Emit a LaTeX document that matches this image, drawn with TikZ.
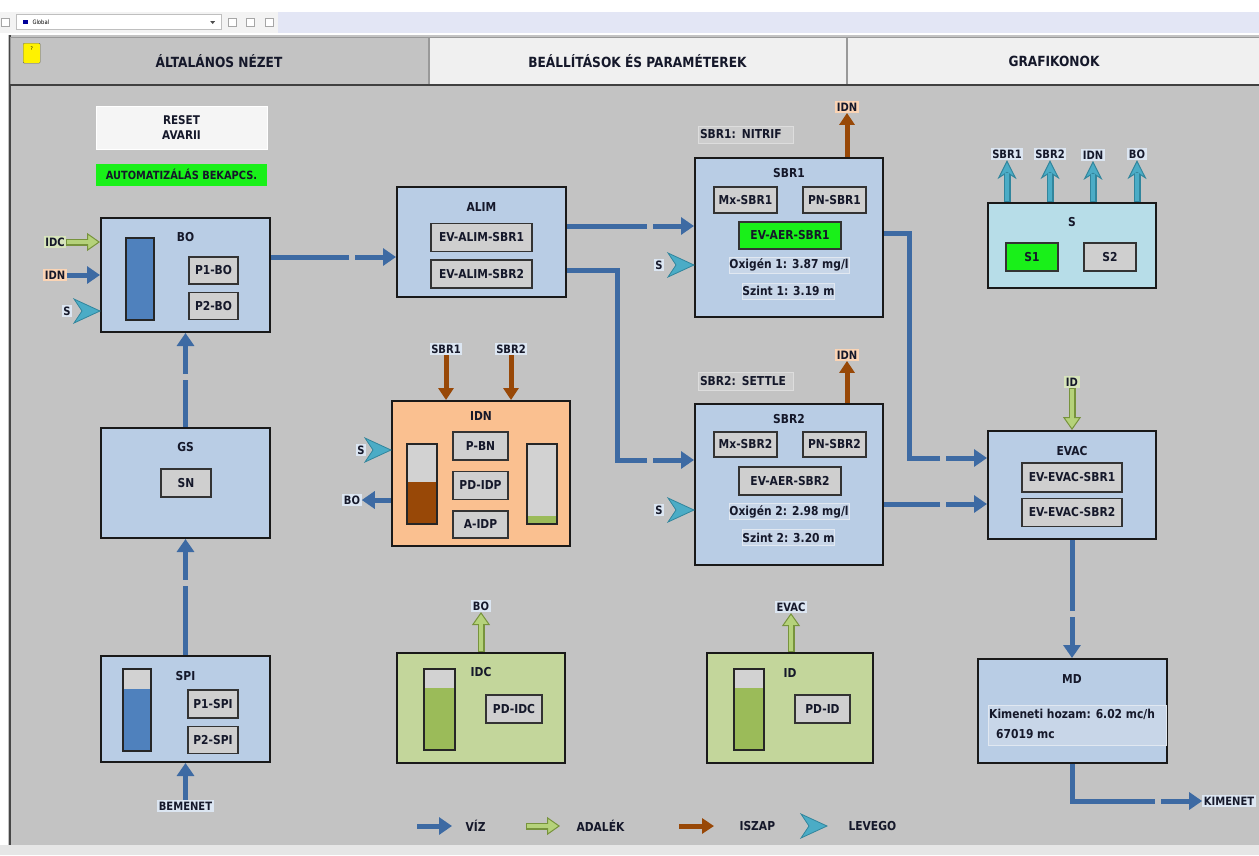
\documentclass[tikz,border=0pt]{standalone}
\usepackage{fontspec}
\setmainfont{DejaVu Sans}[FakeStretch=0.87]
\usetikzlibrary{positioning,arrows.meta,decorations.markings}

\definecolor{panel}{HTML}{C3C3C3}
\definecolor{barg}{HTML}{F3F3F3}
\definecolor{lav}{HTML}{E3E6F5}
\definecolor{stat}{HTML}{E6E6E6}
\definecolor{tabw}{HTML}{F0F0F0}
\definecolor{boxblue}{HTML}{B9CDE5}
\definecolor{btngray}{HTML}{CFCFCF}
\definecolor{tankgray}{HTML}{D2D2D2}
\definecolor{wblue}{HTML}{3D6AA3}
\definecolor{tankblue}{HTML}{4F81BD}
\definecolor{okgreen}{HTML}{19F019}
\definecolor{idnorange}{HTML}{FAC090}
\definecolor{sludge}{HTML}{984807}
\definecolor{idcgreen}{HTML}{C3D69B}
\definecolor{chemgreen}{HTML}{9BBB59}
\definecolor{chemdark}{HTML}{77933C}
\definecolor{chemlight}{HTML}{B5D27A}
\definecolor{aircyan}{HTML}{4BACC6}
\definecolor{airdark}{HTML}{31859C}
\definecolor{scyan}{HTML}{B7DDE8}
\definecolor{tagblue}{HTML}{DCE6F2}
\definecolor{tagorange}{HTML}{FBD4B4}
\definecolor{taggreen}{HTML}{D7E4BC}
\definecolor{fieldblue}{HTML}{C8D6E8}
\definecolor{fieldedge}{HTML}{E1E8F1}
\definecolor{labgray}{HTML}{CDCDCD}
\definecolor{labedge}{HTML}{DDDDDD}
\definecolor{txt}{HTML}{15182A}

\tikzset{
  hmi/.style={font=\fontsize{12.3}{14}\selectfont\bfseries, text=txt},
  tab/.style={draw=gray!80, line width=1pt, fill=tabw, minimum height=48pt, inner sep=0pt, font=\fontsize{14}{16}\selectfont\bfseries, text=txt},
  unit/.style={draw=black!90, line width=2pt, fill=boxblue, inner sep=0pt},
  title/.style={hmi, inner sep=0pt, text height=9pt, text depth=0pt},
  btn/.style={hmi, draw=black!80, line width=1.4pt, fill=btngray, inner sep=0pt, minimum height=27pt},
  field/.style={hmi, draw=fieldedge, line width=1pt, fill=fieldblue, inner sep=0pt, minimum height=16pt},
  state/.style={hmi, draw=labedge, line width=1pt, fill=labgray, inner xsep=2pt, inner ysep=0pt, minimum height=17pt, text width=91pt, align=left},
  tag/.style={font=\fontsize{11.5}{13}\selectfont\bfseries, text=txt, fill=tagblue, inner sep=1.5pt},
  tank/.style={draw=black!85, line width=1.5pt, fill=tankgray, minimum width=29pt, minimum height=81pt, inner sep=0pt},
  level/.style 2 args={path picture={\fill[#2] (path picture bounding box.south west) rectangle ([shift={(0,-#1)}]path picture bounding box.south east);}},
  water/.style={draw=wblue, line width=5pt, -{Triangle[length=13pt,width=17pt]}},
  slud/.style={draw=sludge, line width=5pt, -{Triangle[length=12pt,width=15pt]}},
  chem/.style={draw=chemdark, line width=7pt, -{Triangle[length=13pt,width=18pt,fill=chemlight,line width=1pt]},
    postaction={draw=chemlight, -, line width=4.6pt, shorten >=11pt, shorten <=1pt}},
  airout/.style={draw=airdark, line width=7pt, -{Stealth[length=19pt,width=19pt,inset=6pt,fill=aircyan,line width=1pt]},
    postaction={draw=aircyan, -, line width=4.4pt, shorten >=13pt, shorten <=1pt}},
  gap/.style={postaction={decorate, decoration={markings, mark=at position -44pt with {\fill[panel] (-3pt,-5pt) rectangle (3pt,5pt);}}}},
  chev/.pic={\filldraw[draw=airdark, fill=aircyan, line width=0.8pt] (0,0) -- (-26,-12) -- (-18,0) -- (-26,12) -- cycle;},
  icon/.style={draw=gray!70, fill=white, minimum size=8pt, inner sep=0pt}
}

\begin{document}
\begin{tikzpicture}[x=1pt,y=-1pt]
  \useasboundingbox (0,0) rectangle (1259,855);
  \fill[white] (0,0) rectangle (1259,855);
  %toolbar
  \fill[barg] (0,12) rectangle (278,33);
  \fill[lav] (278,12) rectangle (1259,33);
  \node[icon] (i0) at (5,22) {};
  \node[draw=gray!50, fill=white, minimum width=205pt, minimum height=15pt, inner sep=0pt] (combo) at (119,22) {};
  \node[font=\fontsize{6}{6}\selectfont, inner sep=0pt, right=16pt of combo.west] (glob) {Global};
  \node[fill=blue!60!black, minimum width=5pt, minimum height=4pt, inner sep=0pt, right=6pt of combo.west] (gic) {};
  \fill[black!70] ([xshift=-9pt]combo.east) ++(-2.5,-1) -- ++(5,0) -- ++(-2.5,3) -- cycle;
  \node[icon] (i1) at (232,22) {};
  \node[icon, right=10pt of i1] (i2) {};
  \node[icon, right=10pt of i2] (i3) {};
  \fill[panel] (8,35) rectangle (1259,845);
  \draw[gray!55!black, line width=2pt] (10,35) -- (10,845);
  \fill[stat] (0,845) rectangle (1259,855);

  %tabs
  \node[tab, fill=panel, minimum width=418pt] (t1) at (219,61) {ÁLTALÁNOS NÉZET};
  \node[tab, minimum width=417pt, right=0pt of t1] (t2) {BEÁLLÍTÁSOK ÉS PARAMÉTEREK};
  \node[tab, minimum width=414pt, right=0pt of t2] (t3) {GRAFIKONOK};
  \draw[gray!50!black, line width=1.5pt] (10,85) -- (1259,85);
  \node[draw=black!60, fill=yellow, rounded corners=1pt, minimum width=17pt, minimum height=20pt, inner sep=1pt, font=\fontsize{5}{5}\selectfont, anchor=north west, text depth=10pt] (help) at (23,43) {?};

  \node[hmi, draw=white, line width=1pt, fill=gray!8, minimum width=171pt, minimum height=43pt, align=center, font=\fontsize{12}{15}\selectfont\bfseries] (reset) at (181.5,127.5) {RESET\\AVARII};
  \node[fill=okgreen, minimum width=171pt, minimum height=22pt, inner sep=0pt, font=\fontsize{11.3}{13}\selectfont\bfseries, text=txt, below=14pt of reset] (auto) {AUTOMATIZÁLÁS BEKAPCS.};

  %left column
  \node[unit, minimum width=169pt, minimum height=114pt] (bo) at (185.5,275) {};
  \node[title, below=15.5pt of bo.north] (bot) {BO};
  \node[tank, level={82}{tankblue}, minimum width=28pt, minimum height=82pt] (bok) at (140,279) {};
  \node[btn, minimum width=49pt] (p1bo) at (213.5,270.5) {P1-BO};
  \node[btn, minimum width=49pt, below=7pt of p1bo] (p2bo) {P2-BO};

  \node[unit, minimum width=169pt, minimum height=110pt] (gs) at (185.5,483) {};
  \node[title, below=15.5pt of gs.north] (gst) {GS};
  \node[btn, minimum width=50pt, minimum height=28pt] (sn) at (186,483) {SN};

  \node[unit, minimum width=169pt, minimum height=106pt] (spi) at (185.5,709) {};
  \node[title, below=16.5pt of spi.north] (spit) {SPI};
  \node[tank, level={62}{tankblue}, minimum width=28pt, minimum height=82pt] (spik) at (137,710) {};
  \node[btn, minimum width=50pt, minimum height=28pt] (p1spi) at (213,704) {P1-SPI};
  \node[btn, minimum width=50pt, below=7pt of p1spi] (p2spi) {P2-SPI};
  \node[tag] (tbem) at (185.5,806) {BEMENET};

  \node[tag, fill=taggreen] (tidc) at (55,242) {IDC};
  \node[tag, fill=tagorange] (tidn) at (55,275) {IDN};
  \node[tag] (ts0) at (67,311) {S};

  %middle column
  \node[unit, minimum width=169pt, minimum height=110pt] (alim) at (481.5,242) {};
  \node[title, below=16.5pt of alim.north] (alimt) {ALIM};
  \node[btn, minimum width=101pt, minimum height=28pt] (eva1) at (481.5,237.5) {EV-ALIM-SBR1};
  \node[btn, minimum width=101pt, minimum height=28pt, below=7pt of eva1] (eva2) {EV-ALIM-SBR2};

  \node[unit, fill=idnorange, minimum width=178pt, minimum height=145pt] (idn) at (481,473.5) {};
  \node[title, below=11.5pt of idn.north] (idnt) {IDN};
  \node[btn, minimum width=55pt, minimum height=28pt] (pbn) at (480.5,446) {P-BN};
  \node[btn, minimum width=55pt, minimum height=28pt, below=10pt of pbn] (pdidp) {PD-IDP};
  \node[btn, minimum width=55pt, minimum height=27pt, below=10pt of pdidp] (aidp) {A-IDP};
  \node[tank, level={42}{sludge}, minimum width=30pt, minimum height=80pt] (idnk1) at (422,484) {};
  \node[tank, level={8}{chemgreen}, minimum width=30pt, minimum height=80pt] (idnk2) at (542,484) {};
  \node[tag] (tsa) at (446,349) {SBR1};
  \node[tag] (tsb) at (511,349) {SBR2};
  \node[tag] (ts3) at (361,450) {S};
  \node[tag] (tbo) at (352,500) {BO};

  \node[unit, fill=idcgreen, minimum width=168pt, minimum height=110pt] (idc) at (481,708) {};
  \node[title, below=15.5pt of idc.north] (idct) {IDC};
  \node[tank, level={62}{chemgreen}, minimum width=31pt, minimum height=81pt] (idck) at (439.5,709.5) {};
  \node[btn, minimum width=56pt, minimum height=28pt] (pdidc) at (514,709) {PD-IDC};
  \node[tag] (tbo2) at (481,606) {BO};

  %reactors
  \node[unit, minimum width=188pt, minimum height=159pt] (sbr1) at (789,237.5) {};
  \node[title, below=11.5pt of sbr1.north] (sbr1t) {SBR1};
  \node[btn, minimum width=63pt, minimum height=26pt] (mx1) at (745.5,200) {Mx-SBR1};
  \node[btn, minimum width=63pt, minimum height=26pt] (pn1) at (834.5,200) {PN-SBR1};
  \node[btn, fill=okgreen, minimum width=102pt] (aer1) at (790,235.5) {EV-AER-SBR1};
  \node[field, minimum width=120pt] (ox1) at (789,265) {Oxigén 1: 3.87 mg/l};
  \node[field, minimum width=91pt] (sz1) at (788.5,291) {Szint 1: 3.19 m};
  \node[state] (st1) at (745.5,134.5) {SBR1: NITRIF};
  \node[tag, fill=tagorange] (tidn1) at (847,107) {IDN};
  \node[tag] (ts1) at (659,265) {S};

  \node[unit, minimum width=188pt, minimum height=161pt] (sbr2) at (789,484.5) {};
  \node[title, below=11.5pt of sbr2.north] (sbr2t) {SBR2};
  \node[btn, minimum width=63pt, minimum height=25pt] (mx2) at (745.5,444.5) {Mx-SBR2};
  \node[btn, minimum width=63pt, minimum height=25pt] (pn2) at (834.5,444.5) {PN-SBR2};
  \node[btn, minimum width=102pt, minimum height=28pt] (aer2) at (790,481) {EV-AER-SBR2};
  \node[field, minimum width=120pt] (ox2) at (789,511.5) {Oxigén 2: 2.98 mg/l};
  \node[field, minimum width=91pt] (sz2) at (788.5,537.5) {Szint 2: 3.20 m};
  \node[state, minimum height=18pt] (st2) at (745.5,381) {SBR2: SETTLE};
  \node[tag, fill=tagorange] (tidn2) at (847,355) {IDN};
  \node[tag] (ts2) at (659,510) {S};

  \node[unit, fill=idcgreen, minimum width=166pt, minimum height=110pt] (idb) at (790,708) {};
  \node[title, below=16.5pt of idb.north] (idbt) {ID};
  \node[tank, level={62}{chemgreen}, minimum width=30pt, minimum height=81pt] (idbk) at (749,709.5) {};
  \node[btn, minimum width=55pt, minimum height=28pt] (pdid) at (822.5,709) {PD-ID};
  \node[tag] (tevac) at (791,607) {EVAC};

  %right column
  \node[unit, fill=scyan, minimum width=168pt, minimum height=85pt] (sb) at (1072,245.5) {};
  \node[title, below=15.5pt of sb.north] (sbt) {S};
  \node[btn, fill=okgreen, minimum width=52pt, minimum height=28pt] (s1) at (1032,257) {S1};
  \node[btn, minimum width=52pt, minimum height=28pt] (s2) at (1110,257) {S2};
  \node[tag] (ta1) at (1007,154) {SBR1};
  \node[tag] (ta2) at (1050,154) {SBR2};
  \node[tag] (ta3) at (1093,155) {IDN};
  \node[tag] (ta4) at (1137,154) {BO};

  \node[unit, minimum width=168pt, minimum height=108pt] (evac) at (1072,485) {};
  \node[title, below=16.5pt of evac.north] (evact) {EVAC};
  \node[btn, minimum width=100pt, minimum height=29pt] (eve1) at (1072,477.5) {EV-EVAC-SBR1};
  \node[btn, minimum width=100pt, minimum height=28pt, below=5pt of eve1] (eve2) {EV-EVAC-SBR2};
  \node[tag, fill=taggreen] (tid) at (1072,382) {ID};

  \node[unit, minimum width=189pt, minimum height=104pt] (md) at (1072,711) {};
  \node[title, below=16.5pt of md.north] (mdt) {MD};
  \node[field, minimum width=178pt, minimum height=40pt] (mdf) at (1077,725) {};
  \node[hmi, inner sep=0pt, anchor=west] (mdq) at (989,714) {Kimeneti hozam: 6.02 mc/h};
  \node[hmi, inner sep=0pt, anchor=west] (mdv) at (996,734) {67019 mc};
  \node[tag] (tkim) at (1229,801) {KIMENET};

  %water
  \draw[water] (tbem.north) -- (spi.south);
  \draw[water,gap] (spi.north) -- (gs.south);
  \draw[water,gap] (gs.north) -- (bo.south);
  \draw[water] (tidn.east) -- (tidn.east -| bo.west);
  \draw[water,gap] ([shift={(0,-18)}]bo.east) -- ([shift={(0,15)}]alim.west);
  \draw[water,gap] ([shift={(0,-16)}]alim.east) -- ([shift={(0,-11.5)}]sbr1.west);
  \draw[water,gap] ([shift={(0,28)}]alim.east) -- ++(50,0) |- ([shift={(0,-24.5)}]sbr2.west);
  \draw[water,gap] ([shift={(0,-4.5)}]sbr1.east) -- ++(25,0) |- ([shift={(0,-27)}]evac.west);
  \draw[water,gap] ([shift={(0,19.5)}]sbr2.east) -- ([shift={(0,19)}]evac.west);
  \draw[water,gap] (evac.south) -- (md.north);
  \draw[water,gap] (md.south) |- (tkim.west);
  \draw[water] (tbo -| idn.west) -- (tbo.east);

  %sludge
  \draw[slud] (tidn1.south |- sbr1.north) -- (tidn1.south);
  \draw[slud] (tidn2.south |- sbr2.north) -- (tidn2.south);
  \draw[slud] (tsa.south) -- (tsa.south |- idn.north);
  \draw[slud] (tsb.south) -- (tsb.south |- idn.north);

  %chemicals
  \draw[chem] (tidc.east) -- (tidc.east -| bo.west);
  \draw[chem] (tbo2.south |- idc.north) -- (tbo2.south);
  \draw[chem] (tevac.south |- idb.north) -- (tevac.south);
  \draw[chem] (tid.south) -- (evac.north);

  %air
  \draw[airout] (ta1.south |- sb.north) -- (ta1.south);
  \draw[airout] (ta2.south |- sb.north) -- (ta2.south);
  \draw[airout] (ta3.south |- sb.north) -- (ta3.south);
  \draw[airout] (ta4.south |- sb.north) -- (ta4.south);
  \pic at (ts0 -| bo.west) {chev};
  \pic at (ts1 -| sbr1.west) {chev};
  \pic at (ts2 -| sbr2.west) {chev};
  \pic at (ts3 -| idn.west) {chev};

  %legend
  \node[hmi, anchor=west] (lviz) at (462,826) {VÍZ};
  \node[hmi, anchor=west] (lad) at (573,826) {ADALÉK};
  \node[hmi, anchor=west] (lisz) at (736,826) {ISZAP};
  \node[hmi, anchor=west] (llev) at (845,826) {LEVEGO};
  \draw[water] ([xshift=-45pt]lviz.west) -- ([xshift=-10pt]lviz.west);
  \draw[chem] ([xshift=-47pt]lad.west) -- ([xshift=-13pt]lad.west);
  \draw[slud] ([xshift=-57pt]lisz.west) -- ([xshift=-22pt]lisz.west);
  \pic at ([xshift=-18pt]llev.west) {chev};
\end{tikzpicture}
\end{document}
